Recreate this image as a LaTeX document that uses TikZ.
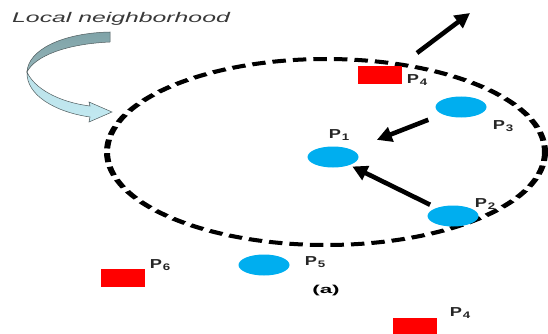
\documentclass[tikz,border=0pt]{standalone}
\usepackage{fontspec}
\setmainfont{Liberation Sans}
\usetikzlibrary{arrows.meta,shapes.geometric}
\definecolor{pblue}{HTML}{00AEEF}
\definecolor{pred}{HTML}{FF0000}
\definecolor{ribdark}{HTML}{94B4B8}
\definecolor{ribdarktop}{HTML}{7FA3A8}
\definecolor{riblight}{HTML}{C2E9F1}
\definecolor{ribedge}{HTML}{4F5B5D}
\newcommand{\plabel}[1]{\scalebox{1.4}[1]{\fontsize{13}{13}\selectfont\bfseries P\hspace{0.6pt}\raisebox{-2.8pt}{\fontsize{9.5}{9.5}\selectfont #1}}}
\tikzset{
  particle/.style={ellipse, fill=pblue, draw=none, minimum width=51pt, minimum height=21pt, inner sep=0pt},
  obstacle/.style={rectangle, fill=pred, draw=none, minimum width=44pt, minimum height=18pt, inner sep=0pt},
  plab/.style={inner sep=0pt, text=black!85},
  move/.style={line width=4.6pt, -{Triangle[length=15pt,width=15pt]}},
  boundary/.style={line width=4pt, dash pattern=on 9pt off 4.7pt}
}
\begin{document}
\begin{tikzpicture}[x=1pt,y=-1pt]
\useasboundingbox (0,0) rectangle (548,334);
\clip (0,0) rectangle (548,334);

% neighbourhood boundary, drawn on a horizontally stretched canvas
\begin{scope}[transform canvas={xscale=1.5}]
  \draw[boundary] (217.33,152) ellipse [x radius=146, y radius=93];
\end{scope}

% caption of the curved pointer
\node[anchor=base west, inner sep=0pt, text=black!78] (title) at (12,23)
  {\scalebox{1.77}[1]{\fontsize{14}{14}\selectfont\itshape Local neighborhood}};

% twisted ribbon arrow pointing at the boundary
\shade[top color=ribdarktop, bottom color=ribdark, draw=ribedge, line width=0.5pt]
  (110,32) .. controls (62,33) and (28,50) .. (27,72)
  .. controls (35,56) and (66,44) .. (110,42) -- cycle;
\shade[top color=riblight!85!ribdark, bottom color=riblight, draw=ribedge, line width=0.5pt]
  (27,72) .. controls (26,95) and (55,112) .. (90,117)
  -- (89,122) -- (112,112) -- (89,102) -- (90,106)
  .. controls (58,102) and (34,88) .. (27,72) -- cycle;

% particles
\node[particle] (P1) at (333,157) {};
\node[particle] (P2) at (453,216) {};
\node[particle] (P3) at (461,107) {};
\node[particle] (P5) at (264,265) {};

% obstacles
\node[obstacle] (O4) at (380,75) {};
\node[obstacle] (O6) at (123,277.5) {};
\node[obstacle] (O4b) at (414.5,327) {};

% labels
\node[plab] (L1) at (339,135) {\plabel{1}};
\node[plab] (L2) at (485,204) {\plabel{2}};
\node[plab] (L3) at (503,126) {\plabel{3}};
\node[plab] (L4) at (417,80) {\plabel{4}};
\node[plab] (L5) at (315,262) {\plabel{5}};
\node[plab] (L6) at (160,265) {\plabel{6}};
\node[plab] (L4b) at (460,313) {\plabel{4}};
\node[inner sep=0pt] (cap) at (326,291)
  {\scalebox{1.95}[1]{\fontsize{11.5}{11.5}\selectfont\rmfamily\bfseries (a)}};

% motion
\coordinate (m4s) at (417,53);
\coordinate (m4e) at (470,13);
\draw[move] (m4s) -- (m4e);
\draw[move, shorten <=15pt, shorten >=27pt] (P3) -- (P1);
\draw[move, shorten <=7pt, shorten >=3pt] (P2) -- (P1);
\end{tikzpicture}
\end{document}
